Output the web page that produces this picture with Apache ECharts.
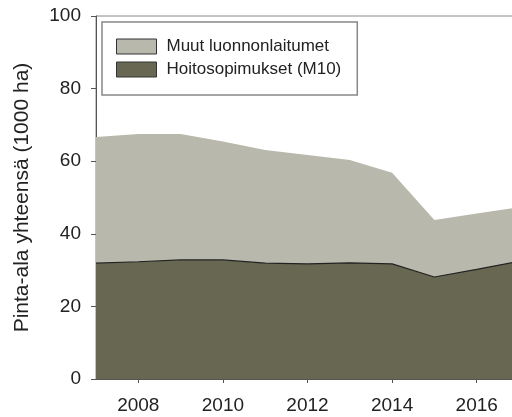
<!DOCTYPE html>
<html>
<head>
<meta charset="utf-8">
<script src="https://cdn.jsdelivr.net/npm/echarts@6/dist/echarts.min.js"></script>
<style>
  html, body { margin: 0; padding: 0; background: #fff; overflow: hidden; }
  /* kuvaaja jatkuu hieman oikean reunan yli, kuten alkuperäisessä */
  #chart { width: 519px; height: 417px; }
</style>
</head>
<body>
<div id="chart"></div>
<script>
// vuodet ja arvot (1000 ha), luettu kuvasta
const years = ['2007', '2008', '2009', '2010', '2011', '2012', '2013', '2014', '2015', '2016', '2017']
const hoitosopimukset = [31.9, 32.3, 32.8, 32.8, 31.9, 31.7, 32.0, 31.7, 28.1, 30.2, 32.4]
const muutLaitumet = [34.8, 35.2, 34.7, 32.6, 31.2, 30.0, 28.3, 25.1, 15.7, 15.4, 14.9]
const yTicks = [0, 20, 40, 60, 80, 100]

const font = 'Liberation Sans, Arial, sans-serif'
const evenYear = (i) => i % 2 === 1

const chart = echarts.init(document.getElementById('chart'))
chart.setOption({
  animation: false,
  textStyle: { fontFamily: font },
  grid: {
    left: 96, right: 0, top: 16, bottom: 38,
    show: true, borderColor: '#8a8a8a', borderWidth: 1
  },
  legend: {
    orient: 'vertical',
    left: 102, top: 22,
    padding: [16, 16, 17, 14],
    itemGap: 6,
    itemWidth: 40,
    itemHeight: 15,
    borderColor: '#888',
    borderWidth: 1.5,
    borderRadius: 0,
    textStyle: { fontSize: 17, color: '#222', fontFamily: font, padding: [0, 0, 0, 5] },
    data: [
      { name: 'Muut luonnonlaitumet', icon: 'rect', itemStyle: { color: '#b8b8ac', borderColor: '#333', borderWidth: 1 } },
      { name: 'Hoitosopimukset (M10)', icon: 'rect', itemStyle: { color: '#686852', borderColor: '#333', borderWidth: 1 } }
    ]
  },
  xAxis: {
    type: 'category',
    boundaryGap: false,
    data: years,
    axisLine: { lineStyle: { color: '#555' } },
    axisTick: { length: 4, interval: evenYear, lineStyle: { color: '#555' } },
    axisLabel: { interval: evenYear, fontSize: 19, color: '#222', margin: 17 },
    splitLine: { show: false }
  },
  yAxis: {
    type: 'value',
    min: yTicks[0],
    max: yTicks[yTicks.length - 1],
    interval: 20,
    name: 'Pinta-ala yhteensä (1000 ha)',
    nameLocation: 'middle',
    nameRotate: 90,
    nameGap: 63,
    nameTextStyle: { fontSize: 21, color: '#222' },
    axisLine: { show: true, lineStyle: { color: '#555' } },
    axisTick: { show: true, length: 5, lineStyle: { color: '#555' } },
    axisLabel: { fontSize: 19, color: '#222', margin: 15 },
    splitLine: { show: false }
  },
  series: [
    {
      name: 'Hoitosopimukset (M10)',
      type: 'line',
      stack: 'ala',
      data: hoitosopimukset,
      symbol: 'none',
      lineStyle: { color: '#222', width: 1.2 },
      itemStyle: { color: '#686852' },
      areaStyle: { color: '#686852', opacity: 1 },
      z: 3
    },
    {
      name: 'Muut luonnonlaitumet',
      type: 'line',
      stack: 'ala',
      data: muutLaitumet,
      symbol: 'none',
      lineStyle: { width: 0 },
      itemStyle: { color: '#b8b8ac' },
      areaStyle: { color: '#b8b8ac', opacity: 1 },
      z: 2
    }
  ]
})
</script>
</body>
</html>
